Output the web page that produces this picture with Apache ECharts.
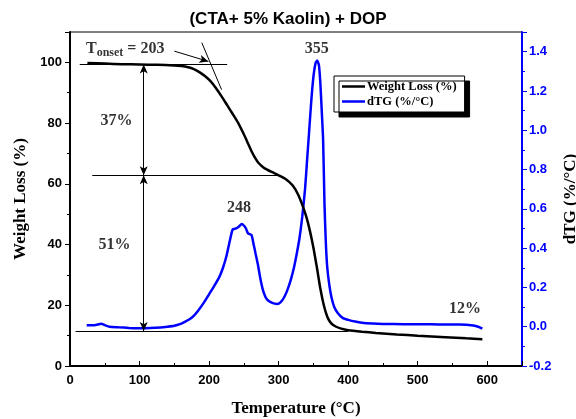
<!DOCTYPE html>
<html>
<head>
<meta charset="utf-8">
<script src="https://cdn.jsdelivr.net/npm/echarts@6/dist/echarts.min.js"></script>
<style>
  html, body { margin: 0; padding: 0; background: #fff; }
  #chart { width: 576px; height: 419px; }
</style>
</head>
<body>
<div id="chart"></div>
<script>
// TG curve (weight loss, %)
const tgTemp = [25, 50, 75, 100, 125, 150, 160, 170, 178, 186, 194, 202, 210, 218, 226, 234, 242, 250, 256, 262, 266, 270, 275, 280, 290,
  300, 310, 320, 328, 335, 340, 345, 350, 355, 360, 365, 370, 375, 382, 390, 400, 420, 440, 470, 500, 540, 570, 593]
const tgWeight = [99.8, 99.6, 99.4, 99.3, 99.2, 99.0, 98.8, 98.4, 97.8, 96.8, 95.5, 93.8, 91.5, 88.8, 85.9, 83.0, 80.0, 76.3, 73.3, 70.3, 68.6, 67.2, 66.0, 65.1, 63.9,
  62.8, 61.6, 59.5, 56.5, 52.5, 49.0, 44.5, 39.0, 32.5, 25.5, 20.0, 16.2, 14.2, 13.0, 12.3, 11.8, 11.3, 10.9, 10.4, 10.0, 9.5, 9.1, 8.8]

// dTG curve (%/°C)
const dtgTemp = [24, 35, 45, 50, 57, 70, 85, 100, 115, 130, 140, 150, 158, 165, 172, 178, 185, 192, 200, 207,
  215, 220, 225, 230, 234, 239, 243, 247, 250, 253, 256, 261, 264, 267, 270, 274, 278, 283, 290, 298,
  303, 308, 313, 318, 322, 326, 330, 334, 338, 341, 344, 347, 350, 353, 355.5, 358, 360, 362, 364, 366,
  368, 370, 373, 376, 380, 385, 392, 400, 410, 420, 435, 450, 480, 520, 560, 580, 587, 593]
const dtgValue = [0.008, 0.008, 0.015, 0.008, 0.0, -0.003, -0.006, -0.008, -0.007, -0.004, 0.0, 0.005, 0.013, 0.025, 0.038, 0.055, 0.085, 0.12, 0.165, 0.205,
  0.255, 0.30, 0.36, 0.44, 0.495, 0.50, 0.51, 0.523, 0.515, 0.50, 0.475, 0.467, 0.42, 0.37, 0.32, 0.24, 0.18, 0.14, 0.122, 0.115,
  0.125, 0.15, 0.19, 0.245, 0.30, 0.37, 0.45, 0.56, 0.70, 0.85, 1.0, 1.15, 1.27, 1.34, 1.355, 1.33, 1.24, 1.1, 0.95, 0.62,
  0.42, 0.30, 0.21, 0.15, 0.10, 0.07, 0.045, 0.035, 0.026, 0.02, 0.016, 0.014, 0.013, 0.012, 0.011, 0.006, 0.0, -0.01]

const seriesNames = ['Weight Loss (%)', 'dTG (%/°C)']

const serif = '"Liberation Serif", "Times New Roman", serif'
const sans = '"Liberation Sans", Arial, sans-serif'

const zip = (xs, ys) => xs.map((x, i) => [x, ys[i]])

// annotation lines (in weight-axis coordinates)
const plain = (a, b) => [{ coord: a, symbol: 'none' }, { coord: b, symbol: 'none' }]
const arrowBoth = (a, b) => [{ coord: a, symbol: 'arrow' }, { coord: b, symbol: 'arrow' }]
const arrowEnd = (a, b) => [{ coord: a, symbol: 'none' }, { coord: b, symbol: 'arrow' }]

const chart = echarts.init(document.getElementById('chart'), null, { renderer: 'canvas' })

const option = {
  animation: false,
  title: {
    text: '(CTA+ 5% Kaolin) + DOP',
    left: 'center',
    top: 11,
    padding: 0,
    textStyle: { fontFamily: sans, fontWeight: 'bold', fontSize: 17, color: '#000' }
  },
  grid: {
    left: 70, right: 54, top: 32, bottom: 53,
    outerBoundsMode: 'none',
    containLabel: false,
    show: true, borderColor: '#000', borderWidth: 1
  },
  legend: {
    data: seriesNames,
    orient: 'vertical',
    left: 334, top: 76,
    padding: [4, 8, 4, 8],
    icon: 'rect',
    itemWidth: 23, itemHeight: 2.5, itemGap: 2,
    backgroundColor: '#fff',
    borderColor: '#000', borderWidth: 1,
    shadowColor: '#000', shadowBlur: 0, shadowOffsetX: 5, shadowOffsetY: 5,
    textStyle: { fontFamily: serif, fontWeight: 'bold', fontSize: 12.5, color: '#000', padding: [0, 0, 0, -3] }
  },
  xAxis: {
    type: 'value',
    min: 0, max: 650, interval: 100,
    name: 'Temperature (°C)',
    nameLocation: 'middle',
    nameGap: 34,
    nameTextStyle: { fontFamily: serif, fontWeight: 'bold', fontSize: 17, color: '#000' },
    axisLine: { lineStyle: { color: '#000', width: 2 } },
    axisTick: { inside: true, length: 5, lineStyle: { color: '#000', width: 1 } },
    minorTick: { show: true, splitNumber: 2, length: 3, lineStyle: { color: '#000' } },
    axisLabel: { showMaxLabel: false, margin: 8, fontFamily: sans, fontWeight: 'bold', fontSize: 13, color: '#000' },
    splitLine: { show: false }
  },
  yAxis: [
    {
      type: 'value',
      min: 0, max: 110, interval: 20,
      name: 'Weight Loss (%)',
      nameLocation: 'middle',
      nameRotate: 90,
      nameGap: 37,
      nameTextStyle: { fontFamily: serif, fontWeight: 'bold', fontSize: 17, color: '#000' },
      axisLine: { show: true, lineStyle: { color: '#000', width: 2 } },
      axisTick: { show: true, length: 5, lineStyle: { color: '#000' } },
      minorTick: { show: true, splitNumber: 2, length: 3, lineStyle: { color: '#000' } },
      axisLabel: { showMaxLabel: false, margin: 8, fontFamily: sans, fontWeight: 'bold', fontSize: 13, color: '#000' },
      splitLine: { show: false }
    },
    {
      type: 'value',
      position: 'right',
      min: -0.2, max: 1.5, interval: 0.2,
      name: 'dTG (%/°C)',
      nameLocation: 'middle',
      nameRotate: 90,
      nameGap: 38,
      nameTextStyle: { fontFamily: serif, fontWeight: 'bold', fontSize: 17, color: '#000' },
      axisLine: { show: true, lineStyle: { color: '#0000ff', width: 2 } },
      axisTick: { show: true, length: 5, lineStyle: { color: '#0000ff' } },
      minorTick: { show: true, splitNumber: 2, length: 3, lineStyle: { color: '#0000ff' } },
      axisLabel: {
        showMaxLabel: false, margin: 7, fontFamily: sans, fontWeight: 'bold', fontSize: 13, color: '#0000ff',
        formatter: v => v.toFixed(1)
      },
      splitLine: { show: false }
    }
  ],
  series: [
    {
      name: seriesNames[0],
      type: 'line',
      yAxisIndex: 0,
      data: zip(tgTemp, tgWeight),
      symbol: 'none',
      smooth: 0.2,
      lineStyle: { color: '#000', width: 2.5 },
      itemStyle: { color: '#000' },
      z: 3,
      markLine: {
        silent: true,
        symbolSize: [6, 9],
        label: { show: false },
        lineStyle: { color: '#000', width: 1, type: 'solid' },
        data: [
          plain([14, 99.3], [226, 99.3]),
          plain([189.5, 106.5], [218, 91.0]),
          arrowEnd([150, 103.7], [199, 100.3]),
          arrowBoth([106, 99.3], [106, 62.8]),
          arrowBoth([106, 62.8], [106, 11.5]),
          plain([32, 62.8], [298, 62.8]),
          plain([8, 11.5], [400, 11.5])
        ]
      }
    },
    {
      name: seriesNames[1],
      type: 'line',
      yAxisIndex: 1,
      data: zip(dtgTemp, dtgValue),
      symbol: 'none',
      smooth: 0.2,
      lineStyle: { color: '#0000ff', width: 2.5 },
      itemStyle: { color: '#0000ff' },
      z: 2
    },
    {
      name: 'notes',
      type: 'scatter',
      yAxisIndex: 0,
      symbolSize: 0,
      silent: true,
      label: {
        show: true,
        position: 'inside',
        fontFamily: serif, fontWeight: 'bold', fontSize: 16, color: '#000',
        formatter: p => p.value[2]
      },
      data: [
        [67, 80.6, '37%'],
        [64, 40.0, '51%'],
        [243, 52.2, '248'],
        [355, 104.4, '355'],
        [568, 18.8, '12%'],
        {
          value: [23, 104.5, ''],
          label: {
            align: 'left',
            formatter: '{t|T}{s|onset}{t| = 203}',
            rich: {
              t: { fontFamily: serif, fontWeight: 'bold', fontSize: 16, color: '#000' },
              s: { fontFamily: serif, fontWeight: 'bold', fontSize: 12, color: '#000', padding: [9, 0, 0, 0] }
            }
          }
        }
      ]
    }
  ]
}

chart.setOption(option)
</script>
</body>
</html>
